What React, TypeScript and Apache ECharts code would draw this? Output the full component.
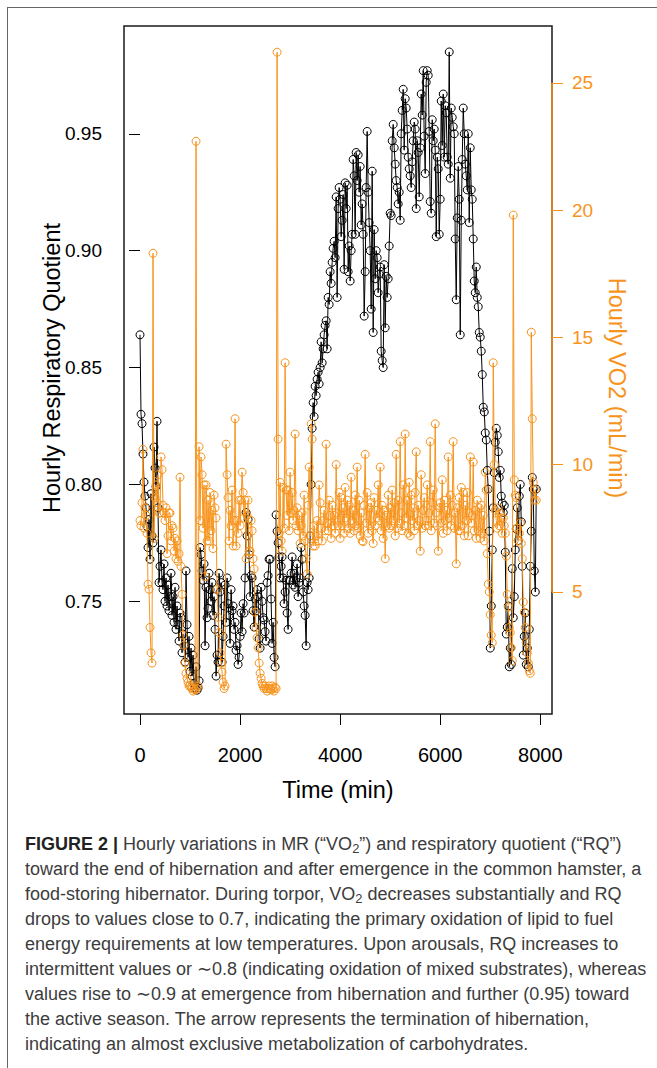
import React, { useEffect, useRef } from "react";
import * as echarts from "echarts";

// Sampling step of the hourly series (minutes between plotted values)
const STEP_MIN = 20;

// Hourly respiratory quotient (left axis), one value per STEP_MIN from t = 0
const RQ = [
  0.864, 0.830, 0.826, 0.813, 0.801, 0.795, 0.790, 0.782, 0.773, 0.785, 0.768,
  0.796, 0.778, 0.775, 0.816, 0.807, 0.799, 0.827, 0.790, 0.758, 0.765,
  0.772, 0.758, 0.755, 0.766, 0.750, 0.760, 0.748, 0.757, 0.746, 0.752,
  0.762, 0.744, 0.752, 0.741, 0.756, 0.738, 0.748, 0.740, 0.733, 0.745,
  0.743, 0.728, 0.736, 0.731, 0.724, 0.763, 0.740, 0.726, 0.735, 0.720,
  0.730, 0.718, 0.727, 0.715, 0.713, 0.722, 0.712, 0.713, 0.716, 0.773,
  0.770, 0.763, 0.759, 0.766, 0.731, 0.756, 0.743, 0.747, 0.762, 0.755,
  0.750, 0.758, 0.744, 0.752, 0.738, 0.718, 0.727, 0.724, 0.762, 0.754,
  0.758, 0.724, 0.735, 0.748, 0.757, 0.741, 0.760, 0.749, 0.744, 0.732,
  0.755, 0.746, 0.748, 0.738, 0.741, 0.729, 0.731, 0.723, 0.726, 0.735,
  0.745, 0.737, 0.749, 0.745, 0.760, 0.788, 0.778, 0.785, 0.770, 0.752,
  0.761, 0.760, 0.746, 0.739, 0.751, 0.746, 0.755, 0.752, 0.734, 0.730,
  0.756, 0.750, 0.743, 0.742, 0.737, 0.733, 0.758, 0.761, 0.768, 0.768,
  0.751, 0.732, 0.741, 0.726, 0.722, 0.787, 0.780, 0.775, 0.769, 0.760,
  0.765, 0.769, 0.760, 0.749, 0.754, 0.759, 0.745, 0.738, 0.759, 0.759,
  0.762, 0.769, 0.757, 0.762, 0.756, 0.760, 0.766, 0.752, 0.758, 0.760,
  0.773, 0.768, 0.754, 0.748, 0.744, 0.731, 0.758, 0.755, 0.760, 0.778,
  0.800, 0.824, 0.835, 0.829, 0.842, 0.838, 0.845, 0.848, 0.843, 0.850,
  0.861, 0.852, 0.858, 0.864, 0.868, 0.870, 0.858, 0.880, 0.877, 0.891,
  0.886, 0.895, 0.901, 0.904, 0.897, 0.923, 0.880, 0.918, 0.927, 0.922,
  0.906, 0.913, 0.924, 0.892, 0.929, 0.918, 0.928, 0.891, 0.902, 0.887,
  0.900, 0.907, 0.939, 0.932, 0.907, 0.942, 0.930, 0.941, 0.925, 0.936,
  0.911, 0.920, 0.907, 0.872, 0.891, 0.927, 0.951, 0.925, 0.912, 0.900,
  0.875, 0.934, 0.865, 0.909, 0.888, 0.900, 0.897, 0.882, 0.890, 0.893,
  0.857, 0.853, 0.850, 0.894, 0.867, 0.889, 0.880, 0.888, 0.902, 0.916,
  0.915, 0.947, 0.954, 0.944, 0.937, 0.930, 0.927, 0.920, 0.925, 0.913,
  0.950, 0.960, 0.969, 0.943, 0.965, 0.961, 0.952, 0.940, 0.935, 0.932,
  0.927, 0.938, 0.947, 0.955, 0.952, 0.918, 0.947, 0.942, 0.923, 0.944,
  0.967, 0.958, 0.977, 0.949, 0.933, 0.972, 0.977, 0.975, 0.951, 0.921,
  0.916, 0.956, 0.947, 0.952, 0.943, 0.906, 0.940, 0.935, 0.907, 0.922,
  0.964, 0.945, 0.967, 0.940, 0.962, 0.959, 0.940, 0.937, 0.985, 0.931,
  0.961, 0.957, 0.953, 0.950, 0.905, 0.879, 0.914, 0.936, 0.922, 0.864,
  0.913, 0.939, 0.961, 0.950, 0.937, 0.932, 0.926, 0.950, 0.912, 0.944,
  0.926, 0.922, 0.905, 0.887, 0.882, 0.893, 0.880, 0.876, 0.865, 0.863,
  0.857, 0.847, 0.833, 0.831, 0.822, 0.819, 0.806, 0.798, 0.780, 0.730,
  0.748, 0.772, 0.790, 0.805, 0.818, 0.824, 0.821, 0.814, 0.803, 0.806,
  0.795, 0.792, 0.788, 0.791, 0.771, 0.736, 0.739, 0.748, 0.722, 0.730,
  0.723, 0.764, 0.743, 0.752, 0.772, 0.781, 0.790, 0.776, 0.795, 0.800,
  0.784, 0.765, 0.727, 0.735, 0.745, 0.723, 0.730, 0.722, 0.738, 0.765,
  0.780, 0.803, 0.798, 0.763, 0.754, 0.798,
];

// Hourly VO2 in mL/min (right axis), same time base
const VO2 = [
  7.8, 7.6, 8.5, 10.6, 7.5, 8.3, 8.0, 7.3, 5.3, 5.1, 3.6,
  2.6, 2.2, 18.3, 7.1, 8.7, 9.2, 8.5, 9.6, 8.1, 8.1,
  10.3, 9.8, 8.4, 8.1, 7.8, 8.3, 6.5, 7.2, 8.1, 8.1,
  7.0, 7.6, 7.5, 6.6, 7.1, 6.3, 7.0, 6.2, 6.5, 9.5,
  6.0, 4.9, 3.3, 2.9, 2.2, 1.8, 1.6, 1.45, 1.3, 1.33,
  1.25, 1.2, 1.1, 1.2, 1.15, 22.7, 1.2, 1.3, 10.7, 7.8,
  10.3, 9.6, 7.5, 9.2, 5.6, 9.2, 7.0, 8.6, 7.0, 8.9,
  7.4, 8.2, 6.7, 8.8, 8.3, 7.9, 5.1, 4.0, 3.4, 2.6,
  2.2, 1.85, 1.45, 1.2, 1.3, 10.8, 9.6, 8.7, 7.0, 8.2,
  7.6, 9.0, 6.8, 7.8, 11.8, 6.8, 7.8, 7.3, 8.6, 7.6,
  8.6, 9.7, 8.9, 7.9, 8.6, 6.3, 8.0, 8.6, 6.6, 6.6,
  7.8, 7.4, 6.3, 5.9, 4.2, 3.6, 3.2, 2.8, 2.2, 1.8,
  1.6, 1.4, 1.3, 1.2, 1.3, 1.2, 1.1, 1.2, 1.3, 1.2,
  1.15, 1.3, 1.2, 1.1, 1.25, 1.2, 26.2, 11.0, 7.3, 9.3,
  7.0, 6.6, 9.1, 7.5, 14.0, 9.0, 8.0, 9.0, 7.4, 9.7,
  8.1, 8.9, 7.8, 8.2, 11.2, 7.6, 8.3, 7.4, 8.0, 6.9,
  7.6, 8.1, 7.2, 8.8, 7.0, 6.3, 5.7, 8.4, 9.9, 7.2,
  11.6, 11.0, 6.8, 7.6, 6.8, 7.2, 7.8, 7.0, 9.2, 8.5,
  7.5, 7.0, 7.8, 8.2, 7.4, 10.8, 7.7, 7.4, 8.6, 8.0,
  7.1, 8.4, 7.6, 8.0, 7.3, 10.0, 8.1, 7.6, 8.9, 7.1,
  8.7, 7.6, 8.3, 7.3, 9.1, 7.9, 8.6, 7.5, 8.4, 7.3,
  9.5, 7.8, 8.2, 7.4, 8.8, 7.6, 9.9, 7.5, 8.6, 7.2,
  8.1, 7.0, 6.97, 8.4, 10.4, 7.7, 8.9, 7.3, 8.3, 7.6,
  8.5, 7.4, 6.9, 8.7, 7.6, 8.2, 7.9, 9.2, 7.8, 9.9,
  7.4, 8.4, 7.1, 8.2, 6.3, 8.0, 7.6, 8.8, 7.5, 8.3,
  7.6, 9.0, 7.8, 8.5, 7.2, 10.4, 7.5, 8.6, 7.7, 10.9,
  8.1, 7.4, 9.2, 7.6, 11.2, 7.9, 8.6, 7.3, 9.3, 7.2,
  8.8, 7.8, 8.3, 7.4, 8.9, 10.5, 7.6, 8.4, 7.8, 6.6,
  9.6, 7.5, 8.2, 8.7, 7.6, 7.8, 9.2, 7.6, 8.1, 10.9,
  7.4, 8.5, 9.0, 7.7, 11.6, 8.1, 7.6, 6.6, 8.3, 8.5,
  7.7, 9.4, 7.3, 8.6, 7.8, 8.2, 7.4, 10.3, 7.9, 8.8,
  7.6, 8.4, 10.9, 7.5, 8.1, 6.1, 8.3, 7.4, 8.7, 7.4,
  9.1, 7.6, 8.9, 7.2, 8.4, 7.8, 8.9, 7.2, 8.1, 10.3,
  7.7, 8.0, 10.1, 7.4, 8.2, 7.1, 8.6, 7.4, 8.3, 7.1,
  8.4, 7.3, 8.0, 7.0, 9.7, 9.0, 6.5, 5.3, 5.0, 4.1,
  3.3, 3.0, 14.0, 10.0, 8.2, 7.8, 7.5, 8.3, 7.6, 8.1,
  7.9, 7.3, 7.9, 7.6, 7.3, 6.4, 4.9, 4.4, 3.6, 3.4,
  2.8, 2.3, 19.8, 9.4, 8.8, 8.7, 7.5, 7.0, 7.3, 7.7,
  6.9, 6.3, 4.6, 4.2, 3.6, 3.0, 2.6, 2.2, 1.9, 1.8,
  15.2, 11.8, 9.3, 8.6, 9.0, 8.6,
];

const X_TICKS = [0, 2000, 4000, 6000, 8000];
const RQ_TICKS = [0.75, 0.8, 0.85, 0.9, 0.95];
const VO2_TICKS = [5, 10, 15, 20, 25];

const X_MIN = -320;
const X_MAX = 8234;
const RQ_MIN = 0.7018;
const RQ_MAX = 0.9961;
const VO2_MIN = 0.2;
const VO2_MAX = 27.23;

const ORANGE = "#F7941D";
const FONT = "'Liberation Sans', Arial, Helvetica, sans-serif";

export default function App() {
  const ref = useRef<HTMLDivElement>(null);

  useEffect(() => {
    if (!ref.current) return;
    const chart = echarts.init(ref.current, null, { renderer: "svg" });
    const rqData = RQ.map((v, i) => [i * STEP_MIN, v]);
    const voData = VO2.map((v, i) => [i * STEP_MIN, v]);

    chart.setOption({
      animation: false,
      grid: {
        left: 124,
        top: 26,
        width: 428,
        height: 688,
        show: true,
        borderColor: "#1a1a1a",
        borderWidth: 1.5,
        backgroundColor: "transparent",
        containLabel: false,
      },
      xAxis: {
        type: "value",
        min: X_MIN,
        max: X_MAX,
        axisLine: { show: false },
        axisTick: {
          show: true,
          length: 11,
          inside: false,
          customValues: X_TICKS,
          lineStyle: { color: "#000", width: 1 },
        },
        axisLabel: {
          customValues: X_TICKS,
          formatter: (v: number) => String(v),
          fontSize: 20,
          color: "#000",
          margin: 31,
          fontFamily: FONT,
        },
        splitLine: { show: false },
      },
      yAxis: [
        {
          type: "value",
          position: "left",
          min: RQ_MIN,
          max: RQ_MAX,
          axisLine: { show: false },
          axisTick: {
            show: true,
            length: 11,
            customValues: RQ_TICKS,
            lineStyle: { color: "#000", width: 1 },
          },
          axisLabel: {
            customValues: RQ_TICKS,
            formatter: (v: number) => v.toFixed(2),
            fontSize: 19,
            color: "#000",
            margin: 22,
            fontFamily: FONT,
          },
          splitLine: { show: false },
        },
        {
          type: "value",
          position: "right",
          min: VO2_MIN,
          max: VO2_MAX,
          axisLine: { show: false },
          axisTick: {
            show: true,
            length: 11,
            customValues: VO2_TICKS,
            lineStyle: { color: ORANGE, width: 1 },
          },
          axisLabel: {
            customValues: VO2_TICKS,
            formatter: (v: number) => String(v),
            fontSize: 19,
            color: ORANGE,
            margin: 20,
            fontFamily: FONT,
          },
          splitLine: { show: false },
        },
      ],
      graphic: [
        {
          type: "text",
          x: 52,
          y: 368,
          rotation: Math.PI / 2,
          silent: true,
          style: {
            text: "Hourly Respiratory Quotient",
            fontSize: 23.5,
            fontFamily: FONT,
            fill: "#000",
            align: "center",
            verticalAlign: "middle",
            textAlign: "center",
            textVerticalAlign: "middle",
          },
        },
        {
          type: "text",
          x: 617,
          y: 388,
          rotation: -Math.PI / 2,
          silent: true,
          style: {
            text: "Hourly VO2 (mL/min)",
            fontSize: 23.5,
            fontFamily: FONT,
            fill: ORANGE,
            align: "center",
            verticalAlign: "middle",
            textAlign: "center",
            textVerticalAlign: "middle",
          },
        },
        {
          type: "text",
          x: 338,
          y: 790,
          silent: true,
          style: {
            text: "Time (min)",
            fontSize: 23.5,
            fontFamily: FONT,
            fill: "#000",
            align: "center",
            verticalAlign: "middle",
            textAlign: "center",
            textVerticalAlign: "middle",
          },
        },
      ],
      series: [
        {
          type: "line",
          name: "RQ",
          xAxisIndex: 0,
          yAxisIndex: 0,
          data: rqData,
          symbol: "circle",
          symbolSize: 8,
          showAllSymbol: true,
          itemStyle: { color: "rgba(0,0,0,0)", borderColor: "#000", borderWidth: 1 },
          lineStyle: { color: "#000", width: 1 },
          emphasis: { disabled: true },
          silent: true,
          z: 2,
        },
        {
          type: "line",
          name: "VO2",
          xAxisIndex: 0,
          yAxisIndex: 1,
          data: voData,
          symbol: "circle",
          symbolSize: 8,
          showAllSymbol: true,
          itemStyle: { color: "rgba(0,0,0,0)", borderColor: ORANGE, borderWidth: 1 },
          lineStyle: { color: ORANGE, width: 1 },
          emphasis: { disabled: true },
          silent: true,
          z: 3,
        },
        {
          type: "line",
          name: "VO2 axis",
          xAxisIndex: 0,
          yAxisIndex: 1,
          data: [
            [X_MAX, VO2_TICKS[0]],
            [X_MAX, VO2_TICKS[VO2_TICKS.length - 1]],
          ],
          symbol: "none",
          clip: false,
          lineStyle: { color: ORANGE, width: 1.5 },
          emphasis: { disabled: true },
          silent: true,
          z: 4,
        },
      ],
    });

    return () => chart.dispose();
  }, []);

  const captionLine: React.CSSProperties = { whiteSpace: "nowrap", height: 25 };
  const sub: React.CSSProperties = { fontSize: "0.72em", verticalAlign: "-0.25em", lineHeight: 0 };

  return (
    <div
      style={{
        position: "absolute",
        left: 0,
        top: 0,
        width: 657,
        height: 1068,
        background: "#fff",
        overflow: "hidden",
      }}
    >
      <div
        style={{
          position: "absolute",
          left: 7,
          top: 7,
          width: 700,
          height: 1100,
          borderTop: "1.3px solid #666",
          borderLeft: "1.3px solid #666",
        }}
      />
      <div ref={ref} style={{ position: "absolute", left: 0, top: 0, width: 657, height: 810 }} />
      <div
        style={{
          position: "absolute",
          left: 25,
          top: 832,
          fontFamily: FONT,
          fontSize: 18,
          lineHeight: "25px",
          color: "#3c3c3c",
        }}
      >
        <div style={captionLine}>
          <b style={{ color: "#222" }}>FIGURE 2 |</b> Hourly variations in MR (“VO<span style={sub}>2</span>”) and respiratory quotient (“RQ”)
        </div>
        <div style={captionLine}>toward the end of hibernation and after emergence in the common hamster, a</div>
        <div style={captionLine}>
          food-storing hibernator. During torpor, VO<span style={sub}>2</span> decreases substantially and RQ
        </div>
        <div style={captionLine}>drops to values close to 0.7, indicating the primary oxidation of lipid to fuel</div>
        <div style={captionLine}>energy requirements at low temperatures. Upon arousals, RQ increases to</div>
        <div style={captionLine}>intermittent values or ∼0.8 (indicating oxidation of mixed substrates), whereas</div>
        <div style={captionLine}>values rise to ∼0.9 at emergence from hibernation and further (0.95) toward</div>
        <div style={captionLine}>the active season. The arrow represents the termination of hibernation,</div>
        <div style={captionLine}>indicating an almost exclusive metabolization of carbohydrates.</div>
      </div>
    </div>
  );
}
